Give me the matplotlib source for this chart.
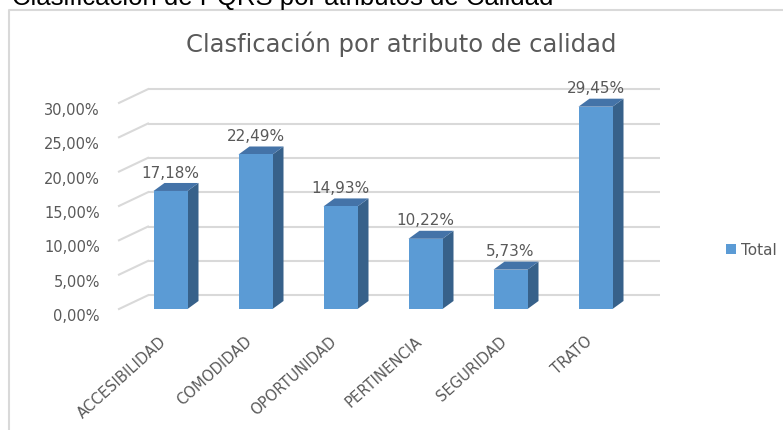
import matplotlib
matplotlib.use("Agg")
import matplotlib.pyplot as plt
from matplotlib.patches import Polygon, Rectangle, Patch
from matplotlib.lines import Line2D

# data
categories = ["ACCESIBILIDAD", "COMODIDAD", "OPORTUNIDAD", "PERTINENCIA", "SEGURIDAD", "TRATO"]
values = [17.18, 22.49, 14.93, 10.22, 5.73, 29.45]
yticks = [0, 5, 10, 15, 20, 25, 30]
series_name = "Total"

# colours / styling
front_col = "#5B9BD5"
top_col = "#4473A8"
side_col = "#37618A"
grid_col = "#D9D9D9"
text_col = "#595959"

W, H = 783, 430
fig = plt.figure(figsize=(W / 100, H / 100), dpi=100)
plt.rcParams["font.family"] = ["DejaVu Sans"]

# one axes over the whole figure: 1 category = 85 px, 1 % = 6.87 px
x_px0, x_step = 170.5, 85.0
y_px0, y_step = 309.0, 6.87
ax = fig.add_axes([0, 0, 1, 1])
ax.set_xlim(-x_px0 / x_step, (W - x_px0) / x_step)
ax.set_ylim((y_px0 - H) / y_step, y_px0 / y_step)
ax.axis("off")

# 3d-ish geometry (data units)
bar_w = 34 / x_step
bar_dx, bar_dy = 11 / x_step, 8 / y_step
wall_front = -51.5 / x_step
wall_dx, wall_dy = 29 / x_step, 2.0
wall_right = 5.76

# back wall gridlines + left side wall diagonals
for t in yticks:
    ax.plot([wall_front + wall_dx, wall_right], [t + wall_dy, t + wall_dy],
            color=grid_col, lw=1.5, zorder=1, solid_capstyle="butt")
    ax.plot([wall_front, wall_front + wall_dx], [t, t + wall_dy],
            color=grid_col, lw=1.5, zorder=1)
    ax.text(-0.83, t - 1.1, f"{t:.2f}%".replace(".", ","), ha="right", va="center",
            fontsize=10.5, color=text_col)

# bars
for i, v in enumerate(values):
    l, r = i - bar_w / 2, i + bar_w / 2
    ax.add_patch(Polygon([(r, 0), (r + bar_dx, bar_dy), (r + bar_dx, v + bar_dy), (r, v)],
                         closed=True, facecolor=side_col, edgecolor="none", zorder=3))
    ax.add_patch(Polygon([(l, v), (l + bar_dx, v + bar_dy), (r + bar_dx, v + bar_dy), (r, v)],
                         closed=True, facecolor=top_col, edgecolor="none", zorder=3))
    ax.add_patch(Rectangle((l, 0), bar_w, v, facecolor=front_col, edgecolor="none", zorder=3))
    ax.text(i, v + 2.6, f"{v:.2f}%".replace(".", ","), ha="center", va="center",
            fontsize=11, color=text_col, zorder=5)
    ax.text(i - 0.07, -4.4, categories[i], rotation=42, rotation_mode="anchor",
            ha="right", va="center", fontsize=10.6, color=text_col)

# legend
ax.legend(handles=[Patch(facecolor=front_col)], labels=[series_name],
          loc="center left", bbox_to_anchor=(712 / W, 1 - 250 / H),
          bbox_transform=fig.transFigure, frameon=False, fontsize=11,
          handlelength=0.65, handleheight=0.65, handletextpad=0.35, labelcolor=text_col)

# chart title
fig.text(401 / W, 1 - 52 / H, "Clasficación por atributo de calidad", ha="center",
         va="baseline", fontsize=17.5, color=text_col)

# chart frame and the cut-off heading above it
fig.add_artist(Line2D([9 / W, 9 / W, 1], [0, 1 - 9.5 / H, 1 - 9.5 / H],
                      transform=fig.transFigure, color=grid_col, lw=1.5))
fig.text(12 / W, 1 - 5.5 / H, "Clasificación de PQRS por atributos de Calidad",
         ha="left", va="baseline", fontsize=18.5, color="black",
         family=["Liberation Sans", "DejaVu Sans"])

fig.savefig("out.png", dpi=100)
